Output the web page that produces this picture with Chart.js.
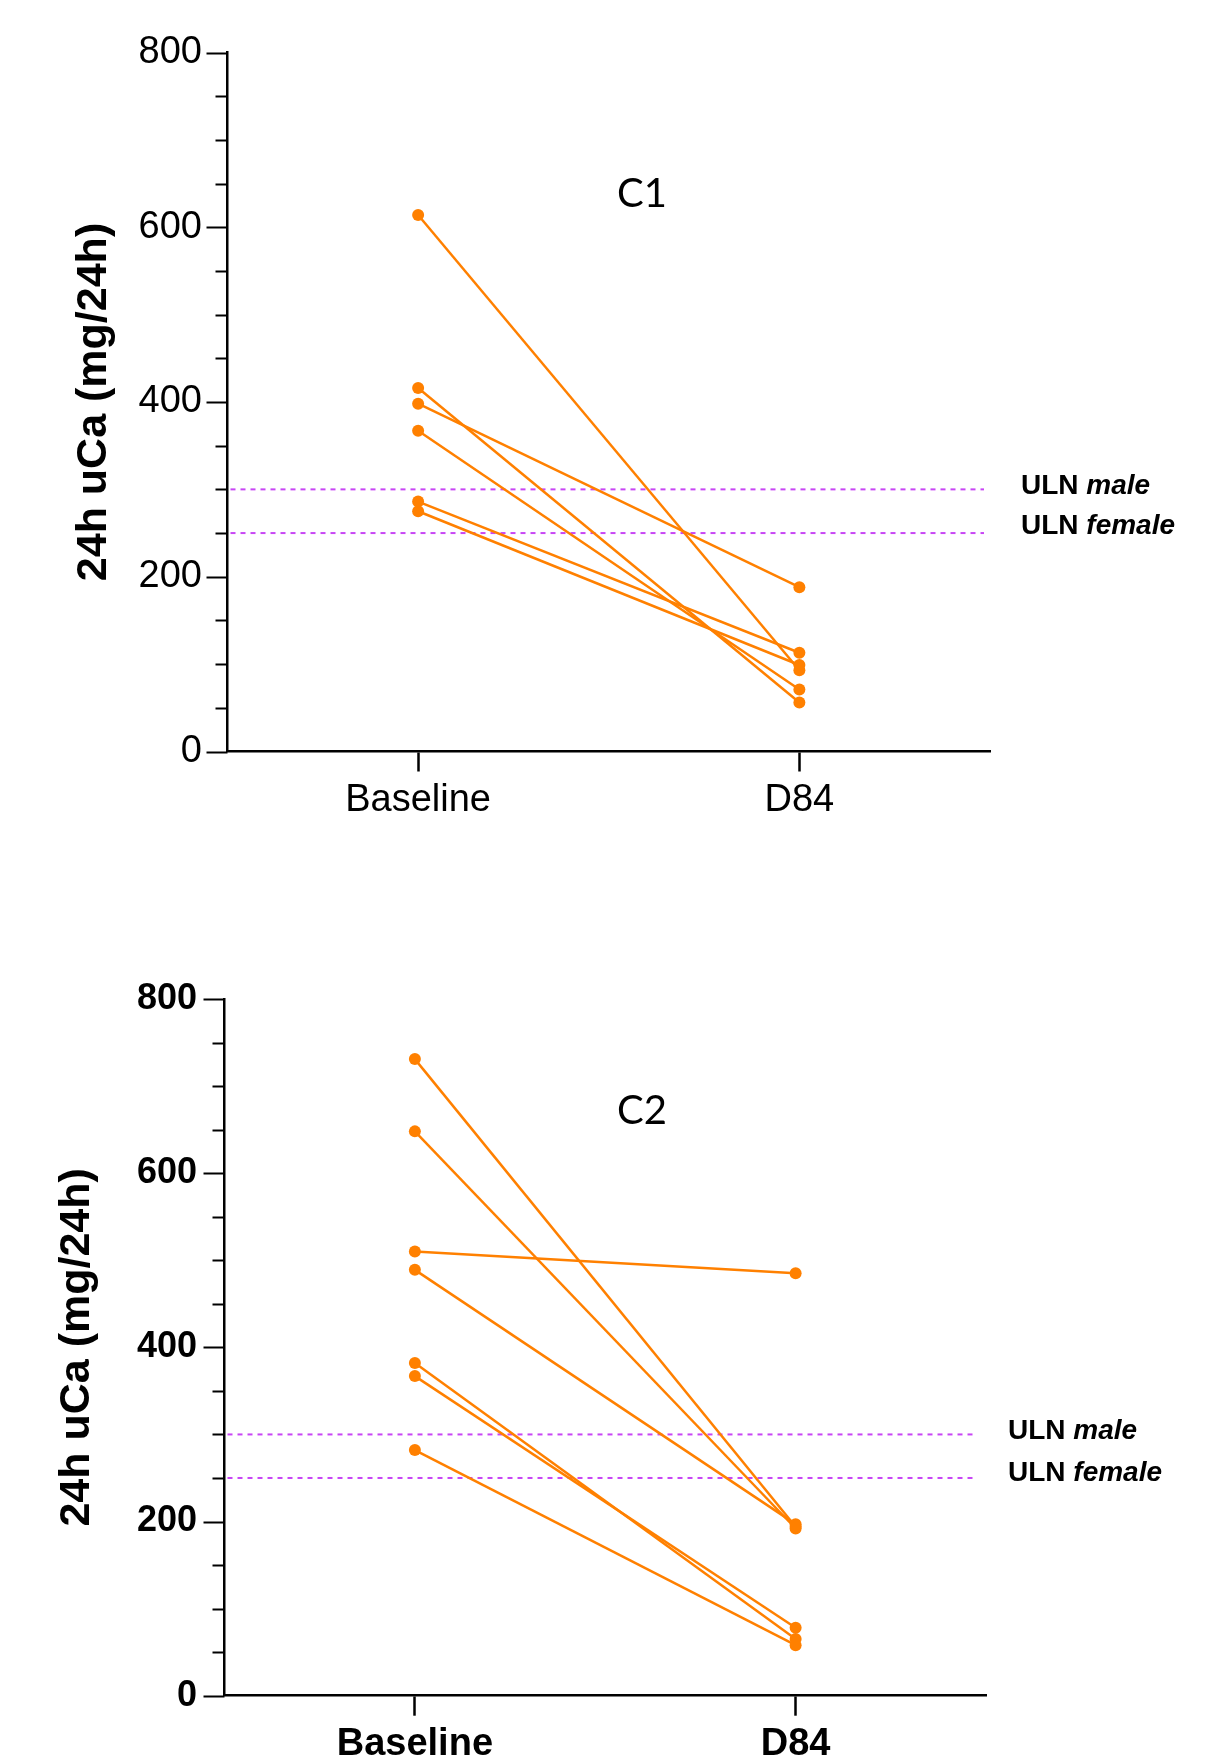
<!DOCTYPE html>
<html>
<head>
<meta charset="utf-8">
<script src="https://cdn.jsdelivr.net/npm/chart.js@4.4.1/dist/chart.umd.min.js"></script>
<style>
  body { margin: 0; background: #fff; width: 1217px; height: 1764px; overflow: hidden; position: relative; }
  canvas { position: absolute; left: 0; }
  #c1 { top: 0; }
  #c2 { top: 870px; }
</style>
</head>
<body>
<canvas id="c1" width="1217" height="870"></canvas>
<canvas id="c2" width="1217" height="894"></canvas>
<script>
// data
const timepoints = ['Baseline', 'D84'];
const yTicks = [0, 200, 400, 600, 800];
const minorStep = 50;
const c1Baseline = [614, 416, 398, 367, 286, 275];
const c1D84 = [93, 56, 188, 71, 113, 99];
const c2Baseline = [731, 648, 510, 489, 382, 367, 282];
const c2D84 = [194, 192, 485, 197, 65, 78, 58];
const ulnValues = [300, 250];
const ulnLabels = ['male', 'female'];

const orange = '#ff8000';
const violet = 'rgb(200,70,245)';
const sans = '"Liberation Sans", Arial, sans-serif';

// minor/major y ticks, ULN reference lines + labels, panel name
const extras = {
  id: 'extras',
  beforeDatasetsDraw(chart, args, opts) {
    const ctx = chart.ctx;
    const y = chart.scales.y;
    const area = chart.chartArea;
    ctx.save();
    ctx.strokeStyle = '#000';
    ctx.lineWidth = 2;
    for (let v = yTicks[0]; v <= yTicks[yTicks.length - 1]; v += minorStep) {
      const py = Math.round(y.getPixelForValue(v)) + 0.5;
      const len = yTicks.includes(v) ? 21 : 12;
      ctx.beginPath();
      ctx.moveTo(area.left - len, py);
      ctx.lineTo(area.left, py);
      ctx.stroke();
    }

    ctx.strokeStyle = violet;
    ctx.lineWidth = 2;
    ctx.setLineDash([5, 5]);
    ulnValues.forEach(v => {
      const py = y.getPixelForValue(v);
      ctx.beginPath();
      ctx.moveTo(area.left + 3, py);
      ctx.lineTo(opts.lineEnd, py);
      ctx.stroke();
    });
    ctx.setLineDash([]);

    ctx.fillStyle = '#000';
    ctx.textAlign = 'left';
    ctx.textBaseline = 'middle';
    ulnValues.forEach((v, i) => {
      const py = y.getPixelForValue(v) + opts.labelShift[i];
      ctx.font = 'bold 28px ' + sans;
      ctx.fillText('ULN ', opts.labelX, py);
      const w = ctx.measureText('ULN ').width;
      ctx.font = 'italic bold 28px ' + sans;
      ctx.fillText(ulnLabels[i], opts.labelX + w, py);
    });

    ctx.font = '40px Lato, "Noto Sans", sans-serif';
    ctx.textAlign = 'center';
    ctx.textBaseline = 'alphabetic';
    ctx.fillText(opts.name, opts.nameX, opts.nameY);
    ctx.restore();
  }
};

function makeChart(id, base, d84, cfg) {
  const datasets = base.map((b, i) => ({
    data: [b, d84[i]],
    borderColor: orange,
    backgroundColor: orange,
    borderWidth: 2.5,
    pointRadius: 6,
    pointHoverRadius: 6,
    pointBorderWidth: 0,
    tension: 0,
    clip: false
  }));

  return new Chart(document.getElementById(id), {
    type: 'line',
    data: { labels: timepoints, datasets: datasets },
    options: {
      responsive: false,
      animation: false,
      events: [],
      layout: { padding: { left: 0, top: cfg.top, right: 1217 - cfg.right, bottom: 0 } },
      plugins: {
        legend: { display: false },
        tooltip: { enabled: false },
        extras: cfg.extras
      },
      scales: {
        x: {
          offset: true,
          grid: { display: true, drawOnChartArea: false, drawTicks: true, tickLength: 20, tickWidth: 2.5, tickColor: '#000', offset: false },
          border: { display: true, color: '#000', width: 2.5 },
          ticks: { color: '#000', font: { family: sans, size: 38, weight: cfg.tickWeight }, padding: 6, maxRotation: 0 },
          afterFit: s => { s.height = cfg.xHeight; }
        },
        y: {
          min: 0,
          max: 800,
          grid: { display: false, drawTicks: false },
          border: { display: true, color: '#000', width: 2.5 },
          ticks: { stepSize: 200, color: '#000', font: { family: sans, size: cfg.yTickSize, weight: cfg.tickWeight }, padding: cfg.yTickPad },
          title: {
            display: true,
            text: '24h uCa (mg/24h)',
            color: '#000',
            font: { family: sans, size: 43, weight: 'bold' },
            padding: { top: cfg.titlePad, bottom: 0 }
          },
          afterFit: s => { s.width = cfg.left; }
        }
      }
    },
    plugins: [extras]
  });
}

makeChart('c1', c1Baseline, c1D84, {
  top: 52.5, right: 990, left: 227.5, xHeight: 118.5,
  tickWeight: 'normal', yTickSize: 38, yTickPad: 25.5, titlePad: 68,
  extras: { lineEnd: 984, labelX: 1021, labelShift: [-3, -7], name: 'C1', nameX: 642, nameY: 207 }
});

makeChart('c2', c2Baseline, c2D84, {
  top: 129, right: 986, left: 224.5, xHeight: 68.3,
  tickWeight: 'bold', yTickSize: 36, yTickPad: 27.5, titlePad: 51,
  extras: { lineEnd: 977, labelX: 1008, labelShift: [-3, -5], name: 'C2', nameX: 642, nameY: 254 }
});
</script>
</body>
</html>
